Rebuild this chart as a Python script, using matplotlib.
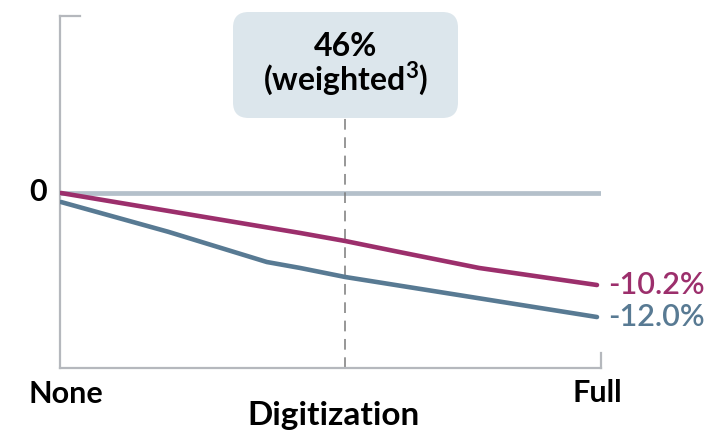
import matplotlib
matplotlib.use("Agg")
import matplotlib.pyplot as plt
from matplotlib.patches import FancyBboxPatch
from matplotlib.lines import Line2D

plt.rcParams['font.family'] = ['Lato', 'DejaVu Sans']
plt.rcParams['mathtext.fontset'] = 'custom'
plt.rcParams['mathtext.bf'] = 'Lato:bold'
plt.rcParams['mathtext.rm'] = 'Lato'

# Data (schematic units: x = digitization level 0..100, y = % change)
mag_x = [0, 44.6, 53.0, 63.1, 78.0, 100]
mag_y = [0, -4.43, -5.32, -6.54, -8.31, -10.2]
blue_x = [0, 20, 38.4, 44.6, 53.0, 100]
blue_y = [-1.0, -4.3, -7.65, -8.31, -9.31, -13.75]
end_labels = ["-10.2%", "-12.0%"]
x_labels = ["None", "Full"]
marker_x = 53.0
box_text = ["46%", r"(weighted$^{\mathbf{3}}$)"]

MAG = "#9c2f6c"
BLUE = "#587a93"
GRID = "#b4c0ca"
SPINE = "#b5b8bd"

W, H = 708, 434
fig = plt.figure(figsize=(W / 100, H / 100), dpi=100)
ax = fig.add_axes([60 / W, (H - 368) / H, (601 - 60) / W, (368 - 16) / H])
ax.set_xlim(-0.19, 100.75)
ax.set_ylim(-19.4, 19.62)
ax.set_xticks([])
ax.set_yticks([])
for s in ['top', 'right']:
    ax.spines[s].set_visible(False)
for s in ['left', 'bottom']:
    ax.spines[s].set_color(SPINE)
    ax.spines[s].set_linewidth(1.6)

# small end ticks
ax.add_line(Line2D([0, 20 / 541], [1, 1], transform=ax.transAxes, color=SPINE, lw=1.6, clip_on=False))
ax.add_line(Line2D([1, 1], [0, 15 / 352], transform=ax.transAxes, color=SPINE, lw=1.6, clip_on=False))

# zero line
ax.axhline(0, color=GRID, lw=3.4, zorder=1)

# dashed marker line
ax.plot([marker_x, marker_x], [-19.4, 8.3], color="#7a7a7a", lw=1.1,
        dashes=(7, 5), zorder=2, clip_on=False)

ax.plot(blue_x, blue_y, color=BLUE, lw=3.3, solid_capstyle='round', zorder=3)
ax.plot(mag_x, mag_y, color=MAG, lw=3.3, solid_capstyle='round', zorder=4)

# end labels
ax.text(102.0, mag_y[-1], end_labels[0], color=MAG, fontsize=22, fontweight='semibold',
        ha='left', va='center', clip_on=False)
ax.text(102.0, blue_y[-1], end_labels[1], color=BLUE, fontsize=22, fontweight='semibold',
        ha='left', va='center', clip_on=False)

# zero label
fig.text(38 / W, 1 - 192 / H, "0", fontsize=22, fontweight='bold', ha='center', va='center')

# x labels
fig.text(66 / W, 1 - 394 / H, x_labels[0], fontsize=22, fontweight='bold', ha='center', va='center')
fig.text(597 / W, 1 - 393 / H, x_labels[1], fontsize=22, fontweight='bold', ha='center', va='center')
fig.text(334 / W, 1 - 416 / H, "Digitization", fontsize=24, fontweight='bold', ha='center', va='center')

# box
box = FancyBboxPatch((233 / W, 1 - 118 / H), (458 - 233) / W, (118 - 12) / H,
                     boxstyle="round,pad=0,rounding_size=0.022",
                     transform=fig.transFigure, facecolor="#dce6ec", edgecolor='none',
                     mutation_aspect=W / H)
fig.patches.append(box)
fig.text(346 / W, 1 - 47 / H, box_text[0], fontsize=23, fontweight='bold', ha='center', va='center')
fig.text(346 / W, 1 - 79 / H, box_text[1], fontsize=23, fontweight='bold', ha='center', va='center')

fig.savefig("out.png", dpi=100)
